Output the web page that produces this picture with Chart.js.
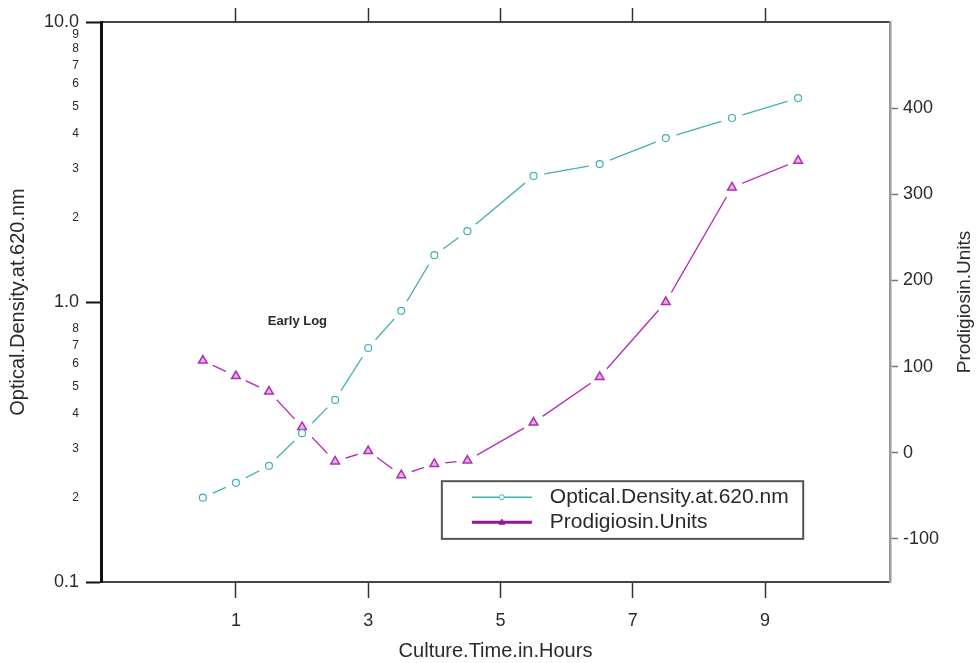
<!DOCTYPE html>
<html>
<head>
<meta charset="utf-8">
<title>Optical density and prodigiosin</title>
<script src="https://cdn.jsdelivr.net/npm/chart.js@4.4.1/dist/chart.umd.min.js"></script>
<style>
  body { margin: 0; background: #fff; }
  #wrap { width: 979px; height: 663px; }
</style>
</head>
<body>
<div id="wrap"><canvas id="chart"></canvas></div>
<script>
// values
var hours = [0.5, 1, 1.5, 2, 2.5, 3, 3.5, 4, 4.5, 5.5, 6.5, 7.5, 8.5, 9.5];
var opticalDensity = [0.20, 0.226, 0.26, 0.34, 0.447, 0.685, 0.93, 1.47, 1.79, 2.82, 3.11, 3.85, 4.54, 5.35];
var prodigiosin = [107, 89, 71, 30, -10, 2, -26, -13, -9, 35, 88, 175, 308, 339];

var xTicks = [1, 3, 5, 7, 9];
var odTicks = [0.1, 0.2, 0.3, 0.4, 0.5, 0.6, 0.7, 0.8, 1, 2, 3, 4, 5, 6, 7, 8, 9, 10];
var odMajor = [0.1, 1, 10];
var prodTicks = [-100, 0, 100, 200, 300, 400];

var TEAL = '#43b1b1';
var MAGENTA = '#b32ab3';
var LEGEND_PURPLE = '#941494';
var FONT = 'Arial, "Liberation Sans", sans-serif';
var TEXT = '#2a2a2a';

function points(ys) {
    return hours.map(function(h, i) { return { x: h, y: ys[i] }; });
}

function isMajor(v) {
    return odMajor.some(function(m) { return Math.abs(m - v) < 1e-9; });
}

// text on the plot: annotation, right title, legend box
var extras = {
    id: 'extras',
    afterDraw: function(chart) {
        var ctx = chart.ctx;
        var area = chart.chartArea;
        var sx = chart.scales.x, sy = chart.scales.y;
        ctx.save();

        // "Early Log" note
        ctx.font = 'bold 13px ' + FONT;
        ctx.fillStyle = TEXT;
        ctx.textAlign = 'center';
        ctx.textBaseline = 'middle';
        ctx.fillText('Early Log', sx.getPixelForValue(1.93), sy.getPixelForValue(0.85));

        // right axis title, reads bottom to top
        ctx.font = '19px ' + FONT;
        ctx.translate(965, (area.top + area.bottom) / 2);
        ctx.rotate(-Math.PI / 2);
        ctx.fillText('Prodigiosin.Units', 0, 0);
        ctx.setTransform(1, 0, 0, 1, 0, 0);

        // legend
        var w = area.right - area.left, h = area.bottom - area.top;
        var bx = area.left + w * 0.432, by = area.top + h * 0.82;
        var bw = w * 0.458, bh = h * 0.103;
        ctx.fillStyle = '#fff';
        ctx.fillRect(bx, by, bw, bh);
        ctx.strokeStyle = '#555';
        ctx.lineWidth = 2;
        ctx.strokeRect(bx, by, bw, bh);

        var entries = chart.data.datasets.filter(function(d) { return d.legendEntry; });
        entries.forEach(function(d, i) {
            var y = by + 16 + i * 25;
            var x0 = bx + 30, x1 = bx + 90, xm = (x0 + x1) / 2;
            ctx.strokeStyle = d.legendColor;
            ctx.lineWidth = d.legendWidth;
            ctx.beginPath();
            ctx.moveTo(x0, y);
            ctx.lineTo(x1, y);
            ctx.stroke();
            ctx.lineWidth = 1;
            ctx.beginPath();
            if (d.legendMarker === 'circle') {
                ctx.fillStyle = '#fff';
                ctx.arc(xm, y, 2.5, 0, Math.PI * 2);
                ctx.fill();
            } else {
                ctx.fillStyle = d.legendColor;
                ctx.moveTo(xm, y - 3);
                ctx.lineTo(xm + 3, y + 2);
                ctx.lineTo(xm - 3, y + 2);
                ctx.closePath();
                ctx.fill();
            }
            ctx.stroke();
            ctx.fillStyle = TEXT;
            ctx.font = '21px ' + FONT;
            ctx.textAlign = 'left';
            ctx.fillText(d.label, bx + 108, y);
        });
        ctx.restore();
    }
};

var ctx = document.getElementById('chart').getContext('2d');

window.chart = new Chart(ctx, {
    type: 'scatter',
    data: {
        datasets: [
            {
                label: 'Optical.Density.at.620.nm',
                legendEntry: true, legendColor: TEAL, legendWidth: 1.5, legendMarker: 'circle',
                data: points(opticalDensity),
                yAxisID: 'y',
                showLine: true,
                borderColor: TEAL,
                borderWidth: 1.3,
                pointRadius: 0,
                order: 30
            },
            {
                label: 'Prodigiosin.Units',
                legendEntry: true, legendColor: LEGEND_PURPLE, legendWidth: 3, legendMarker: 'triangle',
                data: points(prodigiosin),
                yAxisID: 'y2',
                showLine: true,
                borderColor: MAGENTA,
                borderWidth: 1.3,
                pointRadius: 0,
                order: 30
            },
            // white gaps round the markers
            {
                label: 'od-gap',
                data: points(opticalDensity),
                yAxisID: 'y',
                showLine: false,
                pointRadius: 11,
                pointBorderWidth: 0,
                pointBackgroundColor: '#ffffff',
                pointBorderColor: '#ffffff',
                order: 20
            },
            {
                label: 'prod-gap',
                data: points(prodigiosin),
                yAxisID: 'y2',
                showLine: false,
                pointRadius: 11,
                pointBorderWidth: 0,
                pointBackgroundColor: '#ffffff',
                pointBorderColor: '#ffffff',
                order: 20
            },
            // markers
            {
                label: 'od-points',
                data: points(opticalDensity),
                yAxisID: 'y',
                showLine: false,
                pointStyle: 'circle',
                pointRadius: 3.5,
                pointBorderWidth: 1.2,
                pointBorderColor: TEAL,
                pointBackgroundColor: '#fff',
                order: 10
            },
            {
                label: 'prod-points',
                data: points(prodigiosin),
                yAxisID: 'y2',
                showLine: false,
                pointStyle: 'triangle',
                pointRadius: 5,
                pointBorderWidth: 1.5,
                pointBorderColor: MAGENTA,
                pointBackgroundColor: 'rgba(179, 42, 179, 0.35)',
                order: 10
            }
        ]
    },
    options: {
        responsive: true,
        maintainAspectRatio: false,
        animation: false,
        layout: { padding: 0 },
        plugins: {
            legend: { display: false },
            tooltip: { enabled: false }
        },
        scales: {
            x: {
                type: 'linear',
                position: 'bottom',
                min: -1.04,
                max: 10.89,
                afterBuildTicks: function(s) { s.ticks = xTicks.map(function(v) { return { value: v }; }); },
                afterFit: function(s) { s.height = 81; },
                grid: { drawOnChartArea: false, tickLength: 16, tickColor: '#333', tickWidth: 1.5 },
                border: { color: '#444', width: 2 },
                ticks: { autoSkip: false, maxRotation: 0, padding: 12, color: TEXT, font: { family: FONT, size: 18 } },
                title: { display: true, text: 'Culture.Time.in.Hours', color: TEXT, font: { family: FONT, size: 20 }, padding: { top: 0, bottom: 0 } }
            },
            x2: {
                type: 'linear',
                position: 'top',
                min: -1.04,
                max: 10.89,
                afterBuildTicks: function(s) { s.ticks = xTicks.map(function(v) { return { value: v }; }); },
                afterFit: function(s) { s.height = 22; },
                grid: { drawOnChartArea: false, tickLength: 14, tickColor: '#333', tickWidth: 1.5 },
                border: { color: '#444', width: 2 },
                ticks: { autoSkip: false, callback: function() { return ''; } }
            },
            y: {
                type: 'logarithmic',
                position: 'left',
                min: 0.1,
                max: 10,
                afterBuildTicks: function(s) { s.ticks = odTicks.map(function(v) { return { value: v }; }); },
                afterFit: function(s) { s.width = 101; },
                grid: {
                    drawOnChartArea: false,
                    tickLength: 15,
                    tickWidth: 2,
                    tickColor: function(c) { return c.tick && isMajor(c.tick.value) ? '#111' : 'rgba(0,0,0,0)'; }
                },
                border: { color: '#111', width: 3 },
                ticks: {
                    autoSkip: false,
                    padding: 7,
                    color: TEXT,
                    font: function(c) {
                        var major = c.tick && isMajor(c.tick.value);
                        return { family: FONT, size: major ? 18 : 12 };
                    },
                    callback: function(v) {
                        if (isMajor(v)) return v.toFixed(1);
                        var p = Math.pow(10, Math.floor(Math.log10(v) + 1e-9));
                        return String(Math.round(v / p));
                    }
                },
                title: { display: true, text: 'Optical.Density.at.620.nm', color: TEXT, font: { family: FONT, size: 20 }, padding: { top: 6, bottom: 0 } }
            },
            y2: {
                type: 'linear',
                position: 'right',
                min: -150,
                max: 500,
                afterBuildTicks: function(s) { s.ticks = prodTicks.map(function(v) { return { value: v }; }); },
                afterFit: function(s) { s.width = 89; },
                grid: { drawOnChartArea: false, tickLength: 8, tickColor: '#777', tickWidth: 1.5 },
                border: { color: '#999', width: 2.5 },
                ticks: { autoSkip: false, padding: 5, color: TEXT, font: { family: FONT, size: 18 } }
            }
        }
    },
    plugins: [extras]
});
</script>
</body>
</html>
